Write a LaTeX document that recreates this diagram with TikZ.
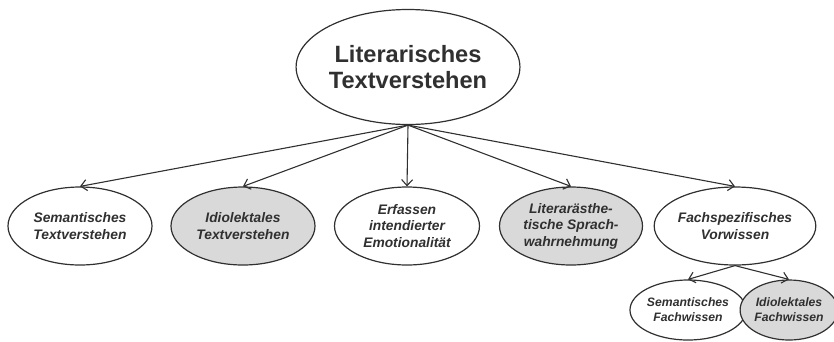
\documentclass[tikz,border=0pt]{standalone}
\usepackage{fontspec}
\setmainfont{Liberation Sans}
\usetikzlibrary{shapes.geometric,arrows.meta}
\definecolor{ink}{HTML}{303030}
\definecolor{shade}{HTML}{D9D9D9}
\tikzset{
  oval/.style={ellipse, draw=ink, line width=1.2pt, fill=white, inner sep=0pt,
    align=center, text=ink, font=\bfseries\itshape\fontsize{13.8}{16.5}\selectfont},
  ovalgray/.style={oval, fill=shade},
  smalloval/.style={font=\bfseries\itshape\fontsize{12.2}{15}\selectfont},
  link/.style={draw=ink, line width=1.1pt, -{Straight Barb[length=6pt,width=11pt,line width=1.1pt]}}
}
\begin{document}
\begin{tikzpicture}[x=1pt,y=-1pt]
  \useasboundingbox (0,0) rectangle (834,341);
  % root
  \node[oval, minimum width=216pt, minimum height=115pt, line width=1.2pt,
        font=\bfseries\fontsize{23.6}{26}\selectfont] (root) at (408,67)
        {Literarisches\\Textverstehen};
  % first level
  \node[oval, minimum width=144pt, minimum height=78pt] (sem) at (80,226)
        {Semantisches\\Textverstehen};
  \node[ovalgray, minimum width=144pt, minimum height=78pt] (idi) at (243,226)
        {Idiolektales\\Textverstehen};
  \node[oval, minimum width=145pt, minimum height=78pt] (emo) at (407,226)
        {Erfassen\\intendierter\\Emotionalität};
  \node[ovalgray, minimum width=143pt, minimum height=78pt] (lit) at (571,226)
        {Literarästhe-\\tische Sprach-\\wahrnehmung};
  \node[oval, minimum width=146pt, minimum height=78pt] (fach) at (735,226)
        {Fachspezifisches\\Vorwissen};
  % second level
  \node[oval, smalloval, minimum width=105pt, minimum height=60pt] (semf) at (688,310)
        {Semantisches\\Fachwissen};
  \node[ovalgray, smalloval, minimum width=95pt, minimum height=60pt] (idif) at (789,310)
        {Idiolektales\\Fachwissen};
  % connectors
  \coordinate (hub) at (root.south);
  \draw[link] (hub) -- (sem.north);
  \draw[link] (hub) -- (idi.north);
  \draw[link] (hub) -- (emo.north);
  \draw[link] (hub) -- (lit.north);
  \draw[link] (hub) -- (fach.north);
  \draw[link] (fach.south) -- (semf.north);
  \draw[link] (fach.south) -- (idif.north);
\end{tikzpicture}
\end{document}
